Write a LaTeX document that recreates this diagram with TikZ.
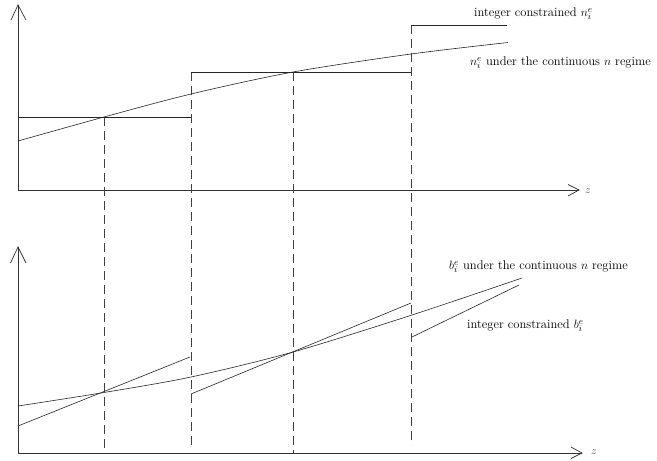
\documentclass[tikz,border=0pt]{standalone}
\usetikzlibrary{arrows.meta}
\begin{document}
\begin{tikzpicture}[x=1pt,y=-1pt,
  ln/.style={line width=0.6pt,draw=black!85},
  axis/.style={line width=0.7pt,draw=black!80},
  guide/.style={line width=0.6pt,draw=black!75,dash pattern=on 9pt off 5pt},
  lbl/.style={font=\fontsize{12.6}{15}\selectfont,inner sep=0pt,anchor=west},
  zl/.style={font=\fontsize{10.5}{12}\selectfont,inner sep=0pt,text=black!70}]
\useasboundingbox (0,0) rectangle (657,461);
% ---- coordinates
\coordinate (tO) at (18,190);
\coordinate (tY) at (18,5);
\coordinate (tX) at (579,190);
\coordinate (bO) at (18,453);
\coordinate (bY) at (18,247);
\coordinate (bX) at (582,453);
% ---- axes (top)
\draw[axis] (tO) -- (tY);
\draw[axis] (tO) -- (tX);
\draw[axis] (11,20) -- (tY) -- (26,20);
\draw[axis] (568,184.5) -- (tX) -- (568,196);
\node[zl] (zt) at (588,191) {$z$};
% ---- axes (bottom)
\draw[axis] (bO) -- (bY);
\draw[axis] (bO) -- (bX);
\draw[axis] (10.5,263) -- (bY) -- (26,263);
\draw[axis] (571,447) -- (bX) -- (571,458.5);
\node[zl] (zb) at (594,452) {$z$};
% ---- dashed guides
\draw[guide] (104,117) -- (104,453);
\draw[guide] (191,72) -- (191,446);
\draw[guide] (293,72) -- (293,453);
\draw[guide] (411,25) -- (411,445);
% ---- top: integer step function
\draw[ln] (18,117) -- (191,117);
\draw[ln] (191,72) -- (411,72);
\draw[ln] (411,25) -- (507,25);
% ---- top: continuous curve
\draw[ln] plot[smooth,tension=0.5] coordinates {(18,141) (104,117) (191,94) (293,72) (411,54) (508,42.5)};
% ---- bottom: continuous curve
\draw[ln] plot[smooth,tension=0.5] coordinates {(18,406) (104,392.5) (191,377) (293,352) (412,315) (522,278)};
% ---- bottom: integer constrained segments
\draw[ln] (18,426) -- (190,357);
\draw[ln] (191,394) -- (411,303);
\draw[ln] (412,337) -- (519,285);
% ---- labels
\node[lbl] (l1) at (474,14) {integer constrained $n_i^e$};
\node[lbl] (l2) at (470,63) {$n_i^e$ under the continuous $n$ regime};
\node[lbl] (l3) at (449,267) {$b_i^e$ under the continuous $n$ regime};
\node[lbl] (l4) at (467,326) {integer constrained $b_i^e$};
\end{tikzpicture}
\end{document}
